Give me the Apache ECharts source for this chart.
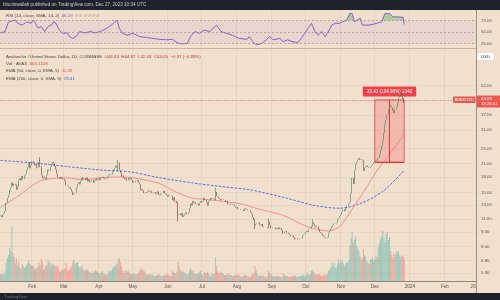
<!DOCTYPE html>
<html><head><meta charset="utf-8">
<script src="https://cdn.jsdelivr.net/npm/echarts@6/dist/echarts.min.js"></script>
<style>html,body{margin:0;padding:0;background:#f2e0cf;}#c{width:500px;height:300px;}</style>
</head><body><div id="c"></div>
<script>
// ---- DATA ----
const closeJan = [11.5,11.3,11.6,11.8,12.1,13.3,14.1,14.6,15.5,15.9,16.9,16.2,16.6,16.4,15.5,16.0,17.3,17.7,17.3,18.2,17.5,18.3,18.6,19.4,20.2,21.3,19.9,20.6]; // Jan 4-31
const closeFeb = [21.6,21.2,20.6,20.9,19.9,20.1,21.2,20.4,18.3,17.7,18.0,17.8,17.5,18.4,19.6,19.3,20.2,20.9,21.4,21.1,20.4,19.6,18.6,17.9,17.6,18.0,17.7,17.5];
const closeMar = [17.6,17.2,16.3,16.2,16.0,15.9,15.6,15.2,14.6,14.8,15.0,15.9,16.6,16.9,16.5,17.2,17.9,17.5,17.8,17.4,17.9,17.1,17.5,16.9,17.1,17.4,16.8,17.3,17.6,17.3,17.6];
const closeApr = [17.7,17.3,17.8,18.0,17.8,17.6,17.5,17.6,18.0,18.3,18.6,18.5,19.1,19.5,19.9,20.5,20.1,21.3,19.4,18.8,18.1,18.3,17.9,17.5,17.7,17.2,17.8,17.5,17.7,17.3];
const closeMay = [16.8,17.1,17.2,17.0,17.3,16.8,16.5,15.4,15.6,15.4,14.9,15.1,15.0,15.2,15.4,15.2,15.3,14.9,15.0,15.1,14.7,14.8,15.2,14.6,14.5,14.8,14.9,15.3,14.9,14.8,14.5];
const closeJun = [14.3,14.6,14.5,14.4,13.7,14.2,13.5,13.6,13.3,11.6,11.7,11.5,11.8,11.3,11.5,11.7,11.9,11.7,11.9,12.5,13.2,12.9,13.6,13.3,13.4,13.1,13.2,12.9,13.3,13.6];
const closeJul = [13.4,13.6,14.1,13.8,13.4,12.9,13.6,13.8,14.1,13.9,14.0,13.8,15.1,14.4,14.3,14.1,13.9,13.7,13.9,13.8,13.8,13.5,13.6,13.1,13.2,13.2,13.0,13.1,13.0,12.8,12.6];
const closeAug = [12.7,12.4,12.4,12.3,12.3,12.3,12.1,12.5,12.4,12.3,12.2,12.2,11.9,11.7,11.3,10.9,10.2,10.4,10.5,10.6,10.3,10.2,10.4,10.1,10.0,10.0,10.0,9.9,10.7,10.3,9.9];
const closeSep = [9.9,10.0,10.0,9.8,9.9,9.8,10.0,9.8,9.9,9.7,9.3,9.5,9.6,9.4,9.4,9.3,9.2,9.0,9.1,8.9,8.7,8.8,8.8,8.7,8.7,8.8,8.8,9.1,9.2,9.3];
const closeOct = [9.5,9.6,9.5,9.8,9.9,10.2,10.6,10.4,10.2,10.0,10.1,9.8,9.5,9.4,9.3,9.1,9.0,8.9,8.8,8.9,9.4,9.6,9.9,10.1,10.3,10.4,10.5,10.6,11.0,11.2,11.4];
const closeNov = [11.6,12.0,12.3,12.1,12.5,12.9,12.9,13.2,13.4,14.9,17.8,16.6,19.4,20.9,21.5,22.2,22.4,21.9,22.1,21.8,19.3,20.0,20.3,20.5,20.2,20.0,20.3,20.6,20.9,21.3];
const closeDec = [21.6,21.8,21.7,22.4,23.3,24.5,25.8,27.4,30.1,33.3,35.0,37.0,39.5,41.6,40.8,40.3,39.0,37.9,39.6,40.7,42.5,45.4,46.3,47.7,46.0,44.43,44.05];
const firstOpen = 11.4;
// notable wicks [low, high]
const wickDates = ['2023-02-08','2023-04-18','2023-06-10','2023-07-13','2023-08-17','2023-08-29','2023-10-07','2023-12-24','2023-12-27'];
const wickLowHigh = [[20.2,22.6],[19.2,21.9],[10.7,13.4],[13.7,15.9],[9.8,11.0],[9.9,11.1],[10.1,11.0],[45.9,48.9],[42.43,44.87]];

const volJan = [140,120,160,120,200,380,460,520,660,600,1100,560,480,360,440,300,380,280,240,340,300,260,280,320,360,420,340,300];
const volFeb = [320,300,260,220,260,280,360,300,440,380,220,240,300,320,420,380,360,300,340,320,300,280,320,260,200,180,220,240];
const volMar = [220,260,360,240,200,220,260,300,400,420,340,360,380,300,260,280,320,240,220,200,240,220,200,180,160,160,200,180,220,200,180];
const volApr = [160,140,180,200,160,140,120,120,160,200,220,200,240,300,280,320,340,440,460,380,300,200,160,200,220,180,200,160,140,140];
const volMay = [160,140,140,120,140,160,200,280,220,240,200,160,120,120,140,140,120,140,120,100,100,120,120,140,120,100,100,120,120,120,140];
const volJun = [140,120,100,100,200,180,160,160,180,380,300,220,180,200,180,160,140,120,140,200,260,220,200,160,140,140,160,140,180,200];
const volJul = [140,120,180,160,160,180,140,100,100,140,140,140,480,300,200,160,160,180,160,140,120,120,120,160,140,120,120,100,100,120,120];
const volAug = [120,140,120,100,80,80,120,120,120,100,100,80,80,120,140,160,300,220,140,100,120,100,100,120,100,80,80,100,200,160,140];
const volSep = [120,100,80,100,100,100,100,100,80,80,140,120,100,100,100,80,80,100,100,100,120,100,80,80,100,100,100,120,120,100];
const volOct = [120,180,140,120,140,200,220,180,140,140,120,140,140,120,100,100,140,120,120,140,200,220,260,360,300,380,280,260,320,440,360];
const volNov = [380,420,360,300,340,380,360,420,700,860,980,760,820,900,700,640,600,480,420,460,640,520,480,400,360,340,420,440,480,400];
const volDec = [440,520,480,680,760,840,900,1000,860,780,940,980,820,880,600,520,480,560,520,600,560,600,520,480,500,520,465.122];

const ema50 = [['2023-01-04',12.6],['2023-01-21',14.6],['2023-02-02',16.4],['2023-02-11',17.4],['2023-03-04',17.8],['2023-03-18',17.4],['2023-04-02',17.8],['2023-04-20',18.0],['2023-05-23',16.8],['2023-06-07',15.2],['2023-06-22',14.1],['2023-07-07',13.8],['2023-07-22',13.5],['2023-08-06',13.1],['2023-08-20',12.4],['2023-09-11',11.5],['2023-10-02',10.1],['2023-10-21',9.6],['2023-10-31',10.1],['2023-11-05',11.0],['2023-11-13',12.9],['2023-11-22',15.4],['2023-12-02',19.0],['2023-12-14',23.4],['2023-12-25',28.6],['2023-12-27',31.35]];
const sma200 = [['2023-01-04',21.8],['2023-02-01',21.2],['2023-03-04',20.3],['2023-04-02',19.5],['2023-04-28',19.1],['2023-05-23',17.9],['2023-06-22',16.8],['2023-07-22',16.0],['2023-08-12',15.5],['2023-09-11',14.2],['2023-10-09',12.9],['2023-10-31',12.5],['2023-11-18',13.2],['2023-12-08',15.2],['2023-12-27',19.41]];
const rsi = [['2023-01-04',48],['2023-01-08',51],['2023-01-11',72],['2023-01-17',76],['2023-01-19',69],['2023-01-23',65],['2023-01-27',72],['2023-01-31',69],['2023-02-02',76],['2023-02-06',59],['2023-02-09',62],['2023-02-12',51],['2023-02-15',62],['2023-02-18',65],['2023-02-20',72],['2023-02-22',69],['2023-02-25',54],['2023-02-28',47],['2023-03-04',48],['2023-03-06',40],['2023-03-09',36],['2023-03-13',43],['2023-03-15',51],['2023-03-20',48],['2023-03-24',51],['2023-03-29',48],['2023-04-02',51],['2023-04-08',58],['2023-04-13',67],['2023-04-17',76],['2023-04-19',58],['2023-04-22',47],['2023-04-26',43],['2023-05-01',47],['2023-05-07',40],['2023-05-13',38],['2023-05-19',36],['2023-05-25',34],['2023-05-31',33],['2023-06-05',34],['2023-06-09',27],['2023-06-13',24],['2023-06-18',25],['2023-06-21',40],['2023-06-25',51],['2023-06-29',47],['2023-07-03',54],['2023-07-08',51],['2023-07-14',65],['2023-07-18',51],['2023-07-23',47],['2023-07-28',43],['2023-08-03',36],['2023-08-10',34],['2023-08-12',40],['2023-08-15',29],['2023-08-18',22],['2023-08-23',25],['2023-08-27',33],['2023-08-30',40],['2023-09-02',33],['2023-09-08',36],['2023-09-11',29],['2023-09-15',33],['2023-09-19',29],['2023-09-24',27],['2023-09-27',36],['2023-09-30',47],['2023-10-03',58],['2023-10-06',69],['2023-10-09',51],['2023-10-12',43],['2023-10-15',51],['2023-10-18',40],['2023-10-20',47],['2023-10-24',65],['2023-10-27',69],['2023-10-31',69],['2023-11-02',72],['2023-11-06',75],['2023-11-09',91],['2023-11-11',90],['2023-11-13',72],['2023-11-18',80],['2023-11-20',65],['2023-11-26',65],['2023-12-03',69],['2023-12-07',72],['2023-12-10',90],['2023-12-14',90],['2023-12-17',83],['2023-12-21',83],['2023-12-26',82],['2023-12-27',66.18]];

const priceTicks = [5.9,6.8,8,9.5,11,13,15,18,21,25,31,37,52];
const rsiTicks = [25,50,75];
const labelDates = ['2023-02-01','2023-03-01','2023-04-01','2023-05-01','2023-06-01','2023-07-01','2023-08-01','2023-09-01','2023-10-01','2023-11-01','2023-12-01','2024-01-01','2024-02-01','2024-02-26'];
const labelTexts = ['Feb','Mar','Apr','May','Jun','Jul','Aug','Sep','Oct','Nov','Dec','2024','Feb','26'];
const lastPrice = 44.09;
const rangeFrom = '2023-12-01', rangeTo = '2023-12-27', rangeMid = '2023-12-14';
const rangeLow = 21.4, rangeHigh = 44.1;
const rangeText = '23.43 (104.98%) 2342';

// ---- build ----
const cats = [];
for (let t = Date.UTC(2023,0,4); t <= Date.UTC(2024,1,28); t += 86400000) cats.push(new Date(t).toISOString().slice(0,10));
const idx = {}; cats.forEach((c,i)=>idx[c]=i);
const closes = [].concat(closeJan,closeFeb,closeMar,closeApr,closeMay,closeJun,closeJul,closeAug,closeSep,closeOct,closeNov,closeDec);
const vols = [].concat(volJan,volFeb,volMar,volApr,volMay,volJun,volJul,volAug,volSep,volOct,volNov,volDec);
const wickMap = {}; wickDates.forEach((d,k)=>wickMap[idx[d]] = wickLowHigh[k]);
const UP = '#2e8656', DOWN = '#7a302b';
const candles = closes.map((c,i)=>{
  const o = i ? closes[i-1] : firstOpen;
  let lo = Math.min(o,c), hi = Math.max(o,c);
  if (wickMap[i]) { lo = Math.min(lo, wickMap[i][0]); hi = Math.max(hi, wickMap[i][1]); }
  return [o,c,lo,hi];
});
const volData = vols.map((v,i)=>({value:v, itemStyle:{color: candles[i][1] >= candles[i][0] ? 'rgba(38,166,154,0.42)' : 'rgba(239,83,80,0.42)'}}));
const labelSet = {}; labelDates.forEach((d,k)=>labelSet[d]=labelTexts[k]);
const splitSet = {}; labelDates.forEach(d=>{ if (d.endsWith('-01')) splitSet[d]=1; });
const FONT = 'Liberation Sans';

const chart = echarts.init(document.getElementById('c'), null, {renderer:'canvas'});
const gl = {left:0, right:24};
const option = {
  animation:false,
  backgroundColor:'#f2e0cf',
  grid:[
    Object.assign({top:10, height:38.5}, gl),
    Object.assign({top:49, bottom:19}, gl),
    Object.assign({top:224, bottom:19}, gl)
  ],
  xAxis:[0,1,2].map(g=>({
    type:'category', gridIndex:g, data:cats, boundaryGap:true,
    axisLine:{show:g===1, lineStyle:{color:'#8a8580', width:1}},
    axisTick:{show:false},
    axisLabel:{show:g===1, interval:(i,v)=>labelSet[v]!==undefined, formatter:v=>labelSet[v]||'', fontSize:4.6, color:'#5a5550', fontFamily:FONT, margin:3.5},
    splitLine:{show:g!==2, interval:(i,v)=>splitSet[v]===1, lineStyle:{color:'rgba(120,100,80,0.09)', width:1}}
  })),
  yAxis:[
    {type:'value', gridIndex:0, position:'right', min:14.1, max:97.8,
     axisLine:{show:false}, axisTick:{show:false}, splitLine:{show:false},
     axisLabel:{customValues:rsiTicks, formatter:v=>v.toFixed(2), fontSize:4.4, color:'#5a5550', fontFamily:FONT, margin:5}},
    {type:'log', logBase:10, gridIndex:1, position:'right', min:5.365, max:79.6,
     axisLine:{show:false}, axisTick:{show:false, customValues:priceTicks},
     splitLine:{show:true, lineStyle:{color:'rgba(120,100,80,0.07)'}},
     axisLabel:{customValues:priceTicks, formatter:v=>Number(v).toFixed(2), fontSize:4.4, color:'#5a5550', fontFamily:FONT, margin:5}},
    {type:'value', gridIndex:2, min:0, max:1140, show:false}
  ],
  series:[
    {type:'line', name:'rsiHot', xAxisIndex:0, yAxisIndex:0, data:rsi.map(([d,v])=>[idx[d], Math.max(v,75)]),
     showSymbol:false, lineStyle:{width:0}, areaStyle:{origin:75, color:'rgba(76,175,80,0.55)'}, z:2, silent:true},
    {type:'line', name:'rsi', xAxisIndex:0, yAxisIndex:0, data:rsi.map(([d,v])=>[idx[d], v]),
     showSymbol:false, lineStyle:{width:0.9, color:'#7e57c2'}, z:3,
     markArea:{silent:true, itemStyle:{color:'rgba(126,87,194,0.07)'}, data:[[{yAxis:25},{yAxis:75}]]},
     markLine:{silent:true, symbol:'none', label:{show:false}, lineStyle:{type:[2,2], color:'#8f8580', width:0.6},
       data:rsiTicks.map(v=>({yAxis:v}))}},
    {type:'bar', name:'vol', xAxisIndex:2, yAxisIndex:2, data:volData, barWidth:1, z:1, silent:true},
    {type:'line', name:'sma200', xAxisIndex:1, yAxisIndex:1, data:sma200.map(([d,v])=>[idx[d],v]), smooth:0.3,
     showSymbol:false, lineStyle:{color:'#4d6fe0', width:1, type:[2.5,1.5]}, z:4},
    {type:'line', name:'ema50', xAxisIndex:1, yAxisIndex:1, data:ema50.map(([d,v])=>[idx[d],v]), smooth:0.3,
     showSymbol:false, lineStyle:{color:'#f07b74', width:0.8}, z:4},
    {type:'candlestick', name:'AVAX', xAxisIndex:1, yAxisIndex:1, data:candles, barWidth:1, z:5,
     itemStyle:{color:UP, color0:DOWN, borderColor:UP, borderColor0:DOWN, borderWidth:0.6},
     markArea:{silent:true, itemStyle:{color:'rgba(240,90,90,0.28)', borderColor:'#f0444c', borderWidth:0.8},
       label:{show:true, position:'top', distance:3, formatter:rangeText, color:'#fff', backgroundColor:'#f0414b', fontSize:4.6, fontFamily:FONT, padding:[2.5,4], borderRadius:1},
       data:[[{coord:[idx[rangeFrom], rangeLow]},{coord:[idx[rangeTo], rangeHigh]}]]},
     markLine:{silent:true, symbol:'none', label:{show:false}, animation:false,
       data:[
         {yAxis:lastPrice, lineStyle:{type:'dotted', color:'#e8606a', width:0.8}},
         [{coord:[idx[rangeMid], rangeLow], lineStyle:{color:'#f0343f', width:1, type:'solid'}},{coord:[idx[rangeMid], rangeHigh]}],
         [{coord:[idx[rangeFrom], rangeLow], lineStyle:{color:'#f0343f', width:1, type:'solid'}},{coord:[idx[rangeTo], rangeLow]}]
       ]}}
  ]
};
chart.setOption(option);

// overlay texts and tags
const yp = chart.convertToPixel({yAxisIndex:1}, lastPrice);
const txt = (x,y,rich,text,extra)=>Object.assign({type:'text', z:100, style:{x:x, y:y, text:text, rich:rich, fontSize:4.4, fontFamily:FONT, verticalAlign:'middle', textVerticalAlign:'middle'}}, extra||{});
chart.setOption({graphic:[
  {type:'rect', z:90, shape:{x:0,y:0,width:500,height:10}, style:{fill:'#1f222b'}},
  {type:'rect', z:90, shape:{x:0,y:293,width:500,height:7}, style:{fill:'#1f222b'}},
  {type:'rect', z:90, shape:{x:0,y:48.2,width:476,height:0.9}, style:{fill:'#b8a696'}},
  {type:'rect', z:90, shape:{x:476,y:10,width:0.9,height:283}, style:{fill:'#8d8985'}},
  {type:'text', z:100, style:{x:3, y:5, text:'bitcoinwallah published on TradingView.com, Dec 27, 2023 10:34 UTC', fill:'#c9ccd3', fontSize:4.6, fontFamily:FONT, verticalAlign:'middle'}},
  {type:'text', z:100, style:{x:4, y:297, text:'TradingView', fill:'#6d7079', fontSize:4.2, fontFamily:FONT, verticalAlign:'middle'}},
  {type:'text', z:100, style:{x:6, y:16, fontFamily:FONT, fontSize:4.4, verticalAlign:'middle',
    text:'{a|RSI (14, close, SMA, 14, 2)}  {b|66.18}  {c|∅ ∅ ∅ ∅ ∅ ∅}',
    rich:{a:{fill:'#4a4540', fontSize:4.4, fontFamily:FONT}, b:{fill:'#7e57c2', fontSize:4.4, fontFamily:FONT}, c:{fill:'#8a8580', fontSize:4.4, fontFamily:FONT}}}},
  {type:'text', z:100, style:{x:6, y:57, fontFamily:FONT, fontSize:4.4, verticalAlign:'middle',
    text:'{a|Avalanche / United States Dollar, 1D, COINBASE}  {b|O44.43  H44.87  L42.43  C44.05  −0.37 (−0.83%)}',
    rich:{a:{fill:'#4a4540', fontSize:4.4, fontFamily:FONT}, b:{fill:'#b2392f', fontSize:4.4, fontFamily:FONT}}}},
  {type:'text', z:100, style:{x:6, y:63.7, fontFamily:FONT, fontSize:4.4, verticalAlign:'middle',
    text:'{a|Vol · AVAX}  {b|465.122K}',
    rich:{a:{fill:'#4a4540', fontSize:4.4, fontFamily:FONT}, b:{fill:'#e24b3f', fontSize:4.4, fontFamily:FONT}}}},
  {type:'text', z:100, style:{x:6, y:71, fontFamily:FONT, fontSize:4.4, verticalAlign:'middle',
    text:'{a|EMA (50, close, 0, EMA, 5)}  {b|31.35}',
    rich:{a:{fill:'#4a4540', fontSize:4.4, fontFamily:FONT}, b:{fill:'#f0554e', fontSize:4.4, fontFamily:FONT}}}},
  {type:'text', z:100, style:{x:6, y:78.3, fontFamily:FONT, fontSize:4.4, verticalAlign:'middle',
    text:'{a|EMA (200, close, 0, SMA, 5)}  {b|19.41}',
    rich:{a:{fill:'#4a4540', fontSize:4.4, fontFamily:FONT}, b:{fill:'#3c63de', fontSize:4.4, fontFamily:FONT}}}},
  {type:'rect', z:95, shape:{x:477.5,y:53,width:16,height:7}, style:{fill:'#ffffff'}},
  {type:'text', z:100, style:{x:485.5, y:56.5, text:'USD', fill:'#333', fontSize:4.4, fontFamily:FONT, align:'center', verticalAlign:'middle'}},
  {type:'rect', z:95, shape:{x:453,y:yp-3.3,width:22.5,height:6.6,r:0.8}, style:{fill:'#f0574c'}},
  {type:'text', z:100, style:{x:464.2, y:yp, text:'AVAXUSD', fill:'#fff', fontSize:4.2, fontFamily:FONT, align:'center', verticalAlign:'middle'}},
  {type:'rect', z:95, shape:{x:477,y:yp-4.3,width:23,height:12}, style:{fill:'#f0574c'}},
  {type:'text', z:100, style:{x:481, y:yp-0.8, text:'44.09', fill:'#fff', fontSize:4.4, fontFamily:FONT, verticalAlign:'middle'}},
  {type:'text', z:100, style:{x:481, y:yp+4.4, text:'13:25:51', fill:'#fff', fontSize:4.2, fontFamily:FONT, verticalAlign:'middle'}}
]});
</script></body></html>
